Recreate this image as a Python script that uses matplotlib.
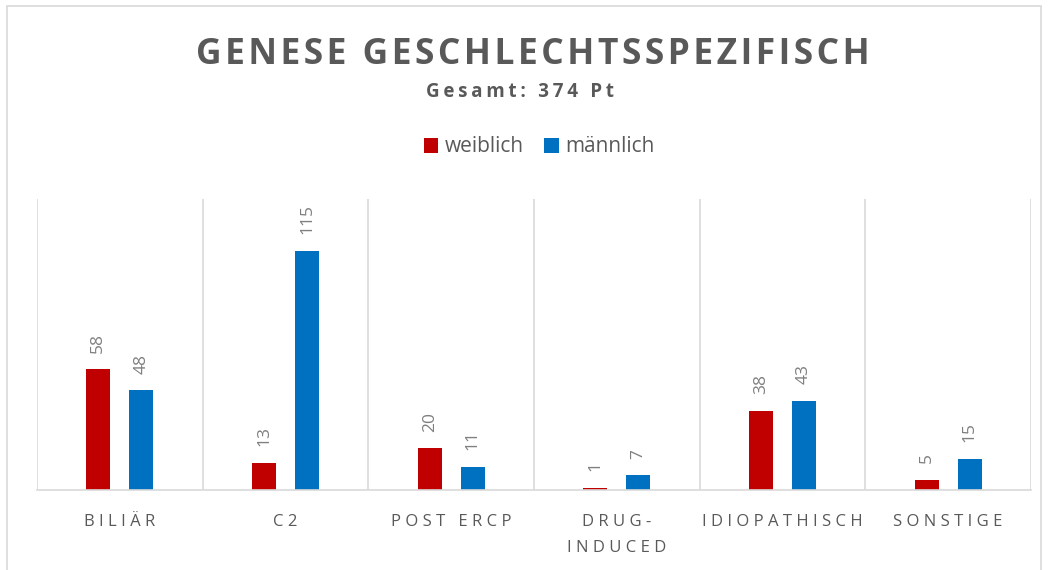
import matplotlib.pyplot as plt
from matplotlib.patches import Rectangle
import numpy as np

categories = ["BILIÄR", "C2", "POST ERCP", "DRUG-\nINDUCED", "IDIOPATHISCH", "SONSTIGE"]
weiblich = [58, 13, 20, 1, 38, 5]
maennlich = [48, 115, 11, 7, 43, 15]
series_names = ["weiblich", "männlich"]

RED = "#C00000"
BLUE = "#0070C0"
GRID = "#d9d9d9"


def spaced(s, sep="\u2009"):
    # fake letter spacing
    return "\n".join(sep.join(list(line)) for line in s.split("\n"))


plt.rcParams["font.family"] = ["Open Sans", "DejaVu Sans"]

fig = plt.figure(figsize=(10.48, 5.70), dpi=100)
ax = fig.add_axes([37 / 1048, 1 - 490 / 570, (1031 - 37) / 1048, (490 - 199) / 570])

x = np.arange(len(categories))
w = 0.145
off = 0.13
b1 = ax.bar(x - off, weiblich, w, color=RED, label=series_names[0])
b2 = ax.bar(x + off, maennlich, w, color=BLUE, label=series_names[1])

for bars, vals in [(b1, weiblich), (b2, maennlich)]:
    for rect, v in zip(bars, vals):
        ax.annotate(str(v), (rect.get_x() + rect.get_width() / 2, v),
                    xytext=(0, 12), textcoords="offset points",
                    rotation=90, ha="center", va="bottom",
                    fontsize=12.5, color="#7f7f7f")

ax.set_xlim(-0.5, len(categories) - 0.5)
ax.set_ylim(0, 140)
ax.set_yticks([])
ax.set_xticks(x)
ax.set_xticklabels([spaced(c, " ") for c in categories], fontsize=12, color="#595959",
                   linespacing=1.9)
ax.tick_params(axis="x", length=0, pad=17)
for b in np.arange(-0.5, len(categories), 1):
    ax.axvline(b, color=GRID, lw=1.2, zorder=0)
for s in ["top", "left", "right"]:
    ax.spines[s].set_visible(False)
ax.spines["bottom"].set_color(GRID)
ax.spines["bottom"].set_linewidth(1.2)

fig.text(533 / 1048, 1 - 55 / 570, spaced("GENESE GESCHLECHTSSPEZIFISCH", "\u200a"),
         ha="center", va="center", fontsize=25.5, fontweight="bold", color="#595959")
fig.text(520 / 1048, 1 - 92 / 570, spaced("Gesamt: 374 Pt"), ha="center", va="center",
         fontsize=13.5, fontweight="bold", color="#595959")

fig.legend(loc="center", bbox_to_anchor=(539 / 1048, 1 - 147 / 570), ncol=2, frameon=False,
           fontsize=15, handlelength=0.7, handleheight=0.7, handletextpad=0.3,
           columnspacing=1.0, labelcolor="#595959")

fig.patches.append(Rectangle((7 / 1048, -0.05), (1041 - 7) / 1048, 1.05 - 6 / 570,
                             transform=fig.transFigure, fill=False, edgecolor=GRID,
                             lw=1.2))

fig.savefig("out.png", dpi=100)
